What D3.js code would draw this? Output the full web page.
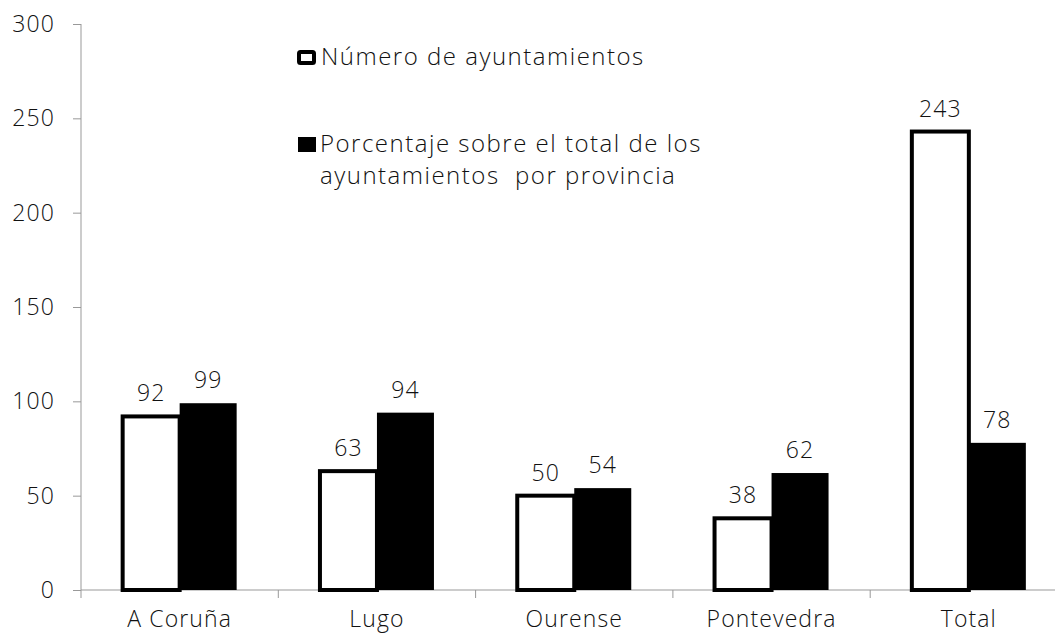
<!DOCTYPE html>
<html>
<head>
<meta charset="utf-8">
<script src="https://cdn.jsdelivr.net/npm/d3@7"></script>
<style>
  body { margin: 0; background: #fff; }
  text { font-family: "Open Sans", Lato, sans-serif; font-weight: 300; fill: #111; }
</style>
</head>
<body>
<svg id="chart"></svg>
<script>
var categories = ['A Coruña', 'Lugo', 'Ourense', 'Pontevedra', 'Total'];
var numAyuntamientos = [92, 63, 50, 38, 243];
var porcentaje = [99, 94, 54, 62, 78];
var yTicks = [0, 50, 100, 150, 200, 250, 300];
var seriesNames = ['Número de ayuntamientos', 'Porcentaje sobre el total de los', 'ayuntamientos  por provincia'];

var width = 1055;
var height = 635;
var left = 81; // y axis position
var bandWidth = 197.3; // width of each category
var barWidth = 57;
var stroke = 4;
var fontSize = '23px';
var spacing = '1.1px';

var svg = d3.select('#chart')
            .attr('width', width)
            .attr('height', height);

var x = d3.scaleBand()
          .domain(categories)
          .range([left, left + bandWidth * categories.length]);

var y = d3.scaleLinear()
          .domain([0, 300])
          .range([590, 24]);

// y axis
var yAxis = svg.append('g')
   .attr('transform', 'translate(' + left + ',0)')
   .call(d3.axisLeft(y).tickValues(yTicks).tickSize(8).tickPadding(18));
yAxis.select('.domain').attr('stroke', '#999').attr('d', 'M0,' + y(300) + 'V598');
yAxis.selectAll('.tick line').attr('stroke', '#999');
yAxis.selectAll('.tick text')
     .style('font-size', fontSize)
     .style('letter-spacing', spacing)
     .attr('fill', '#111');

// x axis
var xAxis = svg.append('g')
   .attr('transform', 'translate(0,' + y(0) + ')')
   .call(d3.axisBottom(x).tickSize(0).tickPadding(21));
xAxis.select('.domain').attr('stroke', '#999').attr('d', 'M' + left + ',0H' + (left + bandWidth * 5));
xAxis.selectAll('.tick text')
     .style('font-size', fontSize)
     .style('letter-spacing', spacing)
     .attr('fill', '#111');

// category separators
svg.selectAll('line.sep')
   .data(categories.slice(1))
   .enter()
   .append('line')
   .attr('class', 'sep')
   .attr('x1', function(d){ return x(d); })
   .attr('x2', function(d){ return x(d); })
   .attr('y1', y(0))
   .attr('y2', y(0) + 8)
   .attr('stroke', '#999');

var offset = (bandWidth - barWidth * 2) / 2;

// white bars
svg.selectAll('rect.num')
   .data(numAyuntamientos)
   .enter()
   .append('rect')
   .attr('class', 'num')
   .attr('x', function(d, i){ return x(categories[i]) + offset; })
   .attr('y', function(d){ return y(d); })
   .attr('width', barWidth)
   .attr('height', function(d){ return y(0) - y(d); })
   .attr('fill', 'white')
   .attr('stroke', 'black')
   .attr('stroke-width', stroke);

// black bars
svg.selectAll('rect.pct')
   .data(porcentaje)
   .enter()
   .append('rect')
   .attr('class', 'pct')
   .attr('x', function(d, i){ return x(categories[i]) + offset + barWidth; })
   .attr('y', function(d){ return y(d); })
   .attr('width', barWidth)
   .attr('height', function(d){ return y(0) - y(d); })
   .attr('fill', 'black');

// value labels
svg.selectAll('text.numLabel')
   .data(numAyuntamientos)
   .enter()
   .append('text')
   .attr('class', 'numLabel')
   .attr('x', function(d, i){ return x(categories[i]) + offset + barWidth / 2; })
   .attr('y', function(d){ return y(d) - 15; })
   .attr('text-anchor', 'middle')
   .style('font-size', fontSize)
   .style('letter-spacing', spacing)
   .text(function(d){ return d; });

svg.selectAll('text.pctLabel')
   .data(porcentaje)
   .enter()
   .append('text')
   .attr('class', 'pctLabel')
   .attr('x', function(d, i){ return x(categories[i]) + offset + barWidth * 1.5; })
   .attr('y', function(d){ return y(d) - 15; })
   .attr('text-anchor', 'middle')
   .style('font-size', fontSize)
   .style('letter-spacing', spacing)
   .text(function(d){ return d; });

// legend
var legend = svg.append('g');
legend.append('rect')
      .attr('x', 299).attr('y', 52)
      .attr('width', 15).attr('height', 11)
      .attr('fill', 'white').attr('stroke', 'black').attr('stroke-width', 4)
      .attr('rx', 1.5);
legend.append('rect')
      .attr('x', 298).attr('y', 137)
      .attr('width', 18).attr('height', 15)
      .attr('fill', 'black');

legend.selectAll('text')
      .data([[321, 65, seriesNames[0]], [320, 152, seriesNames[1]], [320, 184, seriesNames[2]]])
      .enter()
      .append('text')
      .attr('x', function(d){ return d[0]; })
      .attr('y', function(d){ return d[1]; })
      .style('font-size', '24px')
      .style('letter-spacing', '1.5px')
      .style('white-space', 'pre')
      .text(function(d){ return d[2]; });
</script>
</body>
</html>
